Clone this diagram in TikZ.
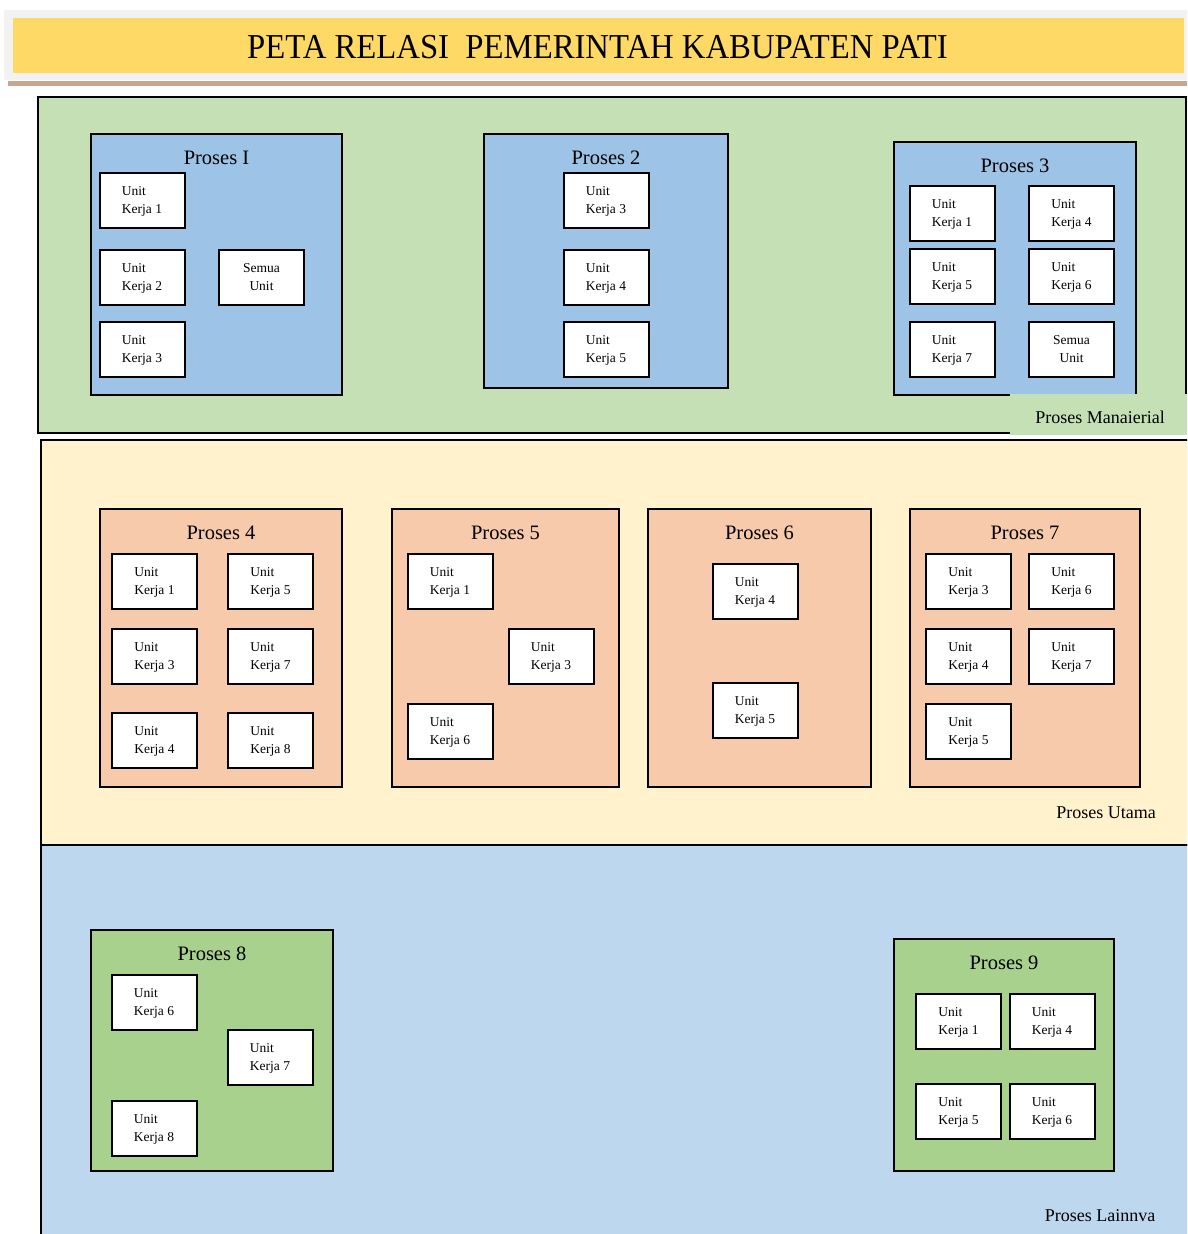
\documentclass[tikz,border=0pt]{standalone}
\usepackage{fontspec}
\setmainfont{Liberation Serif}
\usepackage{xcolor}
\usepackage{graphicx}
\usepackage{tikz}

\definecolor{abu}{HTML}{F2F2F2}
\definecolor{kuning}{HTML}{FFD966}
\definecolor{coklat}{HTML}{C8A58C}
\definecolor{hijaumuda}{HTML}{C5E0B4}
\definecolor{krem}{HTML}{FFF2CC}
\definecolor{birumuda}{HTML}{BDD7EE}
\definecolor{biru}{HTML}{9DC3E6}
\definecolor{salem}{HTML}{F6CAAA}
\definecolor{hijau}{HTML}{A9D18E}

\begin{document}
\begin{tikzpicture}[x=1pt, y=-1pt,
  region/.style={draw=black, line width=2pt},
  proses/.style={rectangle, draw=black, line width=1.6pt, inner sep=0pt},
  judul/.style={anchor=base, font=\fontsize{20.5}{24}\selectfont},
  unit/.style={rectangle, draw=black, line width=2pt, fill=white,
               minimum width=85pt, minimum height=55pt, inner sep=0pt,
               text depth=0pt, align=left, font=\fontsize{13.5}{18}\selectfont},
  semua/.style={unit, align=center},
  ket/.style={anchor=base, font=\fontsize{18}{20}\selectfont}
]
\useasboundingbox (0,0) rectangle (1187,1234);
\clip (0,0) rectangle (1187,1234);

% judul
\fill[abu] (4,10) rectangle (1190,80);
\fill[coklat] (8,81) rectangle (1190,86);
\fill[kuning] (13,18) rectangle (1184,73);
\node[anchor=base, font=\fontsize{35}{38}\selectfont] (title) at (597.5,58)
  {\scalebox{0.935}[1]{PETA RELASI\ \ PEMERINTAH KABUPATEN PATI}};

% latar
\filldraw[region, fill=hijaumuda] (38,97) rectangle (1186,433);
\filldraw[region, fill=krem] (41,440) rectangle (1195,845);
\filldraw[region, fill=birumuda] (41,845) rectangle (1195,1245);

% proses manajerial
\node[proses, fill=biru, minimum width=251, minimum height=261] (P1) at (216.5,264.5) {};
\node[judul] (P1t) at (216.5,164) {Proses I};
\node[unit] (P1a) at (142,200.5) {Unit\\Kerja 1};
\node[unit] (P1b) at (142,277) {Unit\\Kerja 2};
\node[semua] (P1s) at (261.5,277) {Semua\\Unit};
\node[unit] (P1c) at (142,349.5) {Unit\\Kerja 3};

\node[proses, fill=biru, minimum width=244, minimum height=254] (P2) at (606,261) {};
\node[judul] (P2t) at (606,164) {Proses 2};
\node[unit] (P2a) at (606,200.5) {Unit\\Kerja 3};
\node[unit] (P2b) at (606,277) {Unit\\Kerja 4};
\node[unit] (P2c) at (606,349.5) {Unit\\Kerja 5};

\node[proses, fill=biru, minimum width=242, minimum height=253] (P3) at (1015,268.5) {};
\node[judul] (P3t) at (1015,172) {Proses 3};
\node[unit] (P3a) at (952,213) {Unit\\Kerja 1};
\node[unit] (P3b) at (1071.5,213) {Unit\\Kerja 4};
\node[unit] (P3c) at (952,276.5) {Unit\\Kerja 5};
\node[unit] (P3d) at (1071.5,276.5) {Unit\\Kerja 6};
\node[unit] (P3e) at (952,349.5) {Unit\\Kerja 7};
\node[semua] (P3s) at (1071.5,349.5) {Semua\\Unit};

\fill[hijaumuda] (1010,394) rectangle (1190,434.5);
\node[ket] (K1) at (1100,423) {Proses Manaierial};

% proses utama
\node[proses, fill=salem, minimum width=242, minimum height=278] (P4) at (221,648) {};
\node[judul] (P4t) at (221,539) {Proses 4};
\node[unit] (P4a) at (154.5,581) {Unit\\Kerja 1};
\node[unit] (P4b) at (270.5,581) {Unit\\Kerja 5};
\node[unit] (P4c) at (154.5,656) {Unit\\Kerja 3};
\node[unit] (P4d) at (270.5,656) {Unit\\Kerja 7};
\node[unit] (P4e) at (154.5,740) {Unit\\Kerja 4};
\node[unit] (P4f) at (270.5,740) {Unit\\Kerja 8};

\node[proses, fill=salem, minimum width=227, minimum height=278] (P5) at (505.5,648) {};
\node[judul] (P5t) at (505.5,539) {Proses 5};
\node[unit] (P5a) at (450,581) {Unit\\Kerja 1};
\node[unit] (P5b) at (551,656) {Unit\\Kerja 3};
\node[unit] (P5c) at (450,731.5) {Unit\\Kerja 6};

\node[proses, fill=salem, minimum width=223, minimum height=278] (P6) at (759.5,648) {};
\node[judul] (P6t) at (759.5,539) {Proses 6};
\node[unit] (P6a) at (755,591) {Unit\\Kerja 4};
\node[unit] (P6b) at (755,710.5) {Unit\\Kerja 5};

\node[proses, fill=salem, minimum width=230, minimum height=278] (P7) at (1025,648) {};
\node[judul] (P7t) at (1025,539) {Proses 7};
\node[unit] (P7a) at (968.5,581) {Unit\\Kerja 3};
\node[unit] (P7b) at (1071.5,581) {Unit\\Kerja 6};
\node[unit] (P7c) at (968.5,656) {Unit\\Kerja 4};
\node[unit] (P7d) at (1071.5,656) {Unit\\Kerja 7};
\node[unit] (P7e) at (968.5,731.5) {Unit\\Kerja 5};

\node[ket] (K2) at (1106,818) {Proses Utama};

% proses lainnya
\node[proses, fill=hijau, minimum width=242, minimum height=241] (P8) at (212,1050.5) {};
\node[judul] (P8t) at (212,960) {Proses 8};
\node[unit] (P8a) at (154,1002) {Unit\\Kerja 6};
\node[unit] (P8b) at (270,1057) {Unit\\Kerja 7};
\node[unit] (P8c) at (154,1128) {Unit\\Kerja 8};

\node[proses, fill=hijau, minimum width=220, minimum height=232] (P9) at (1004,1055) {};
\node[judul] (P9t) at (1004,969) {Proses 9};
\node[unit] (P9a) at (958.5,1021.5) {Unit\\Kerja 1};
\node[unit] (P9b) at (1052,1021.5) {Unit\\Kerja 4};
\node[unit] (P9c) at (958.5,1111.5) {Unit\\Kerja 5};
\node[unit] (P9d) at (1052,1111.5) {Unit\\Kerja 6};

\node[ket] (K3) at (1100,1221) {Proses Lainnva};
\end{tikzpicture}
\end{document}
